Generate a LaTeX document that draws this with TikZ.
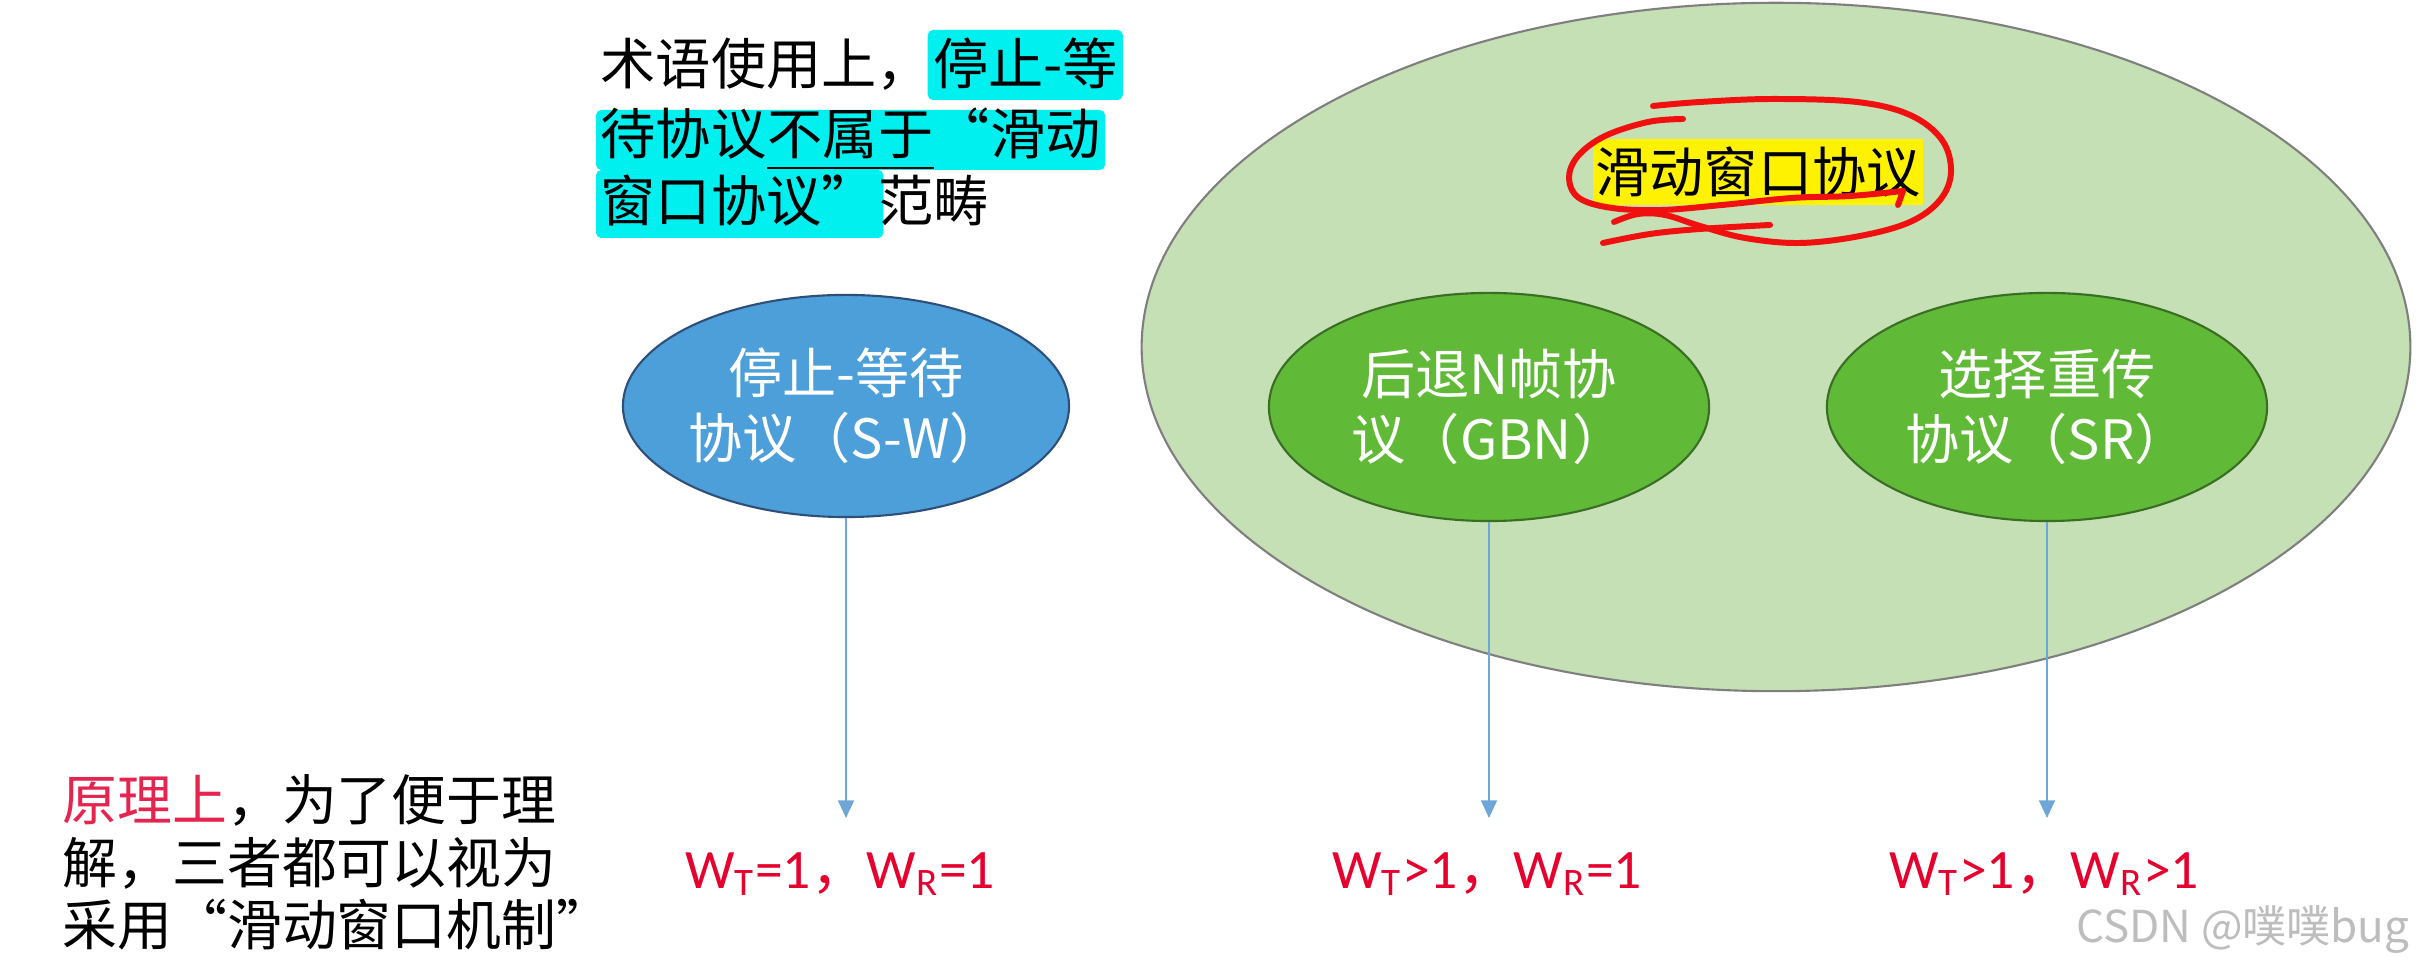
\documentclass[tikz,border=0pt]{standalone}
\usepackage{fontspec}
\setmainfont{Noto Sans CJK SC}
\newfontfamily\cjk{Noto Sans CJK SC}
\newfontfamily\lat{Carlito}
\usetikzlibrary{arrows.meta,shapes.geometric,calc,backgrounds}
\definecolor{lightgreen}{HTML}{C5E0B4}
\definecolor{ellgray}{HTML}{7F7F7F}
\definecolor{swblue}{HTML}{4C9FD9}
\definecolor{swborder}{HTML}{2E4F7A}
\definecolor{midgreen}{HTML}{60B937}
\definecolor{greenborder}{HTML}{3B6E25}
\definecolor{arrowblue}{HTML}{6FA6D8}
\definecolor{labelred}{HTML}{E6002D}
\definecolor{pinkred}{HTML}{E5254F}
\definecolor{hlcyan}{HTML}{00F0F0}
\definecolor{scribred}{HTML}{F01010}
\definecolor{wmgray}{HTML}{BDBDBD}
\begin{document}
\begin{tikzpicture}[x=0.01cm,y=-0.01cm,
  every node/.style={inner sep=0pt},
  body/.style={font=\fontsize{15.7pt}{20pt}\selectfont, text=black, anchor=base west},
  bodyb/.style={font=\fontsize{15.6pt}{20pt}\selectfont, text=black, anchor=base west},
  innertext/.style={font=\fontsize{15.4pt}{18.5pt}\selectfont, text=white, align=center},
  protoell/.style={ellipse, line width=0.6pt, minimum width=4.4cm, minimum height=2.28cm},
  wlabel/.style={font=\fontsize{15.8pt}{20pt}\selectfont, text=labelred},
  arr/.style={draw=arrowblue, line width=0.6pt, -{Triangle[length=5pt,width=4.5pt,fill=arrowblue]}},
  scrib/.style={draw=scribred, line width=1.7pt, line cap=round, line join=round}
]
\useasboundingbox (0,0) rectangle (2420,974);

% big sliding-window ellipse
\node[ellipse, draw=ellgray, fill=lightgreen, line width=0.6pt,
      minimum width=12.68cm, minimum height=6.88cm] (swp) at (1776,347) {};

% title
\node[fill=yellow, minimum width=3.3cm, minimum height=0.65cm,
      font=\fontsize{15.4pt}{18pt}\selectfont] (title) at (1758,172) {滑动窗口协议};

% scribble around the title
\draw[scrib] plot[smooth, tension=0.6] coordinates {(1683,119) (1648,122) (1605,136) (1578,156) (1569,178) (1579,198) (1612,208) (1662,210) (1722,205) (1792,198) (1850,196) (1903,191)};
\draw[scrib] (1903,191) -- (1898,205);
\draw[scrib] plot[smooth, tension=0.6] coordinates {(1653,106) (1700,102) (1773,99) (1857,102) (1910,115) (1942,140) (1951,172) (1940,200) (1910,222) (1860,236) (1800,243) (1745,238) (1700,226) (1665,215) (1638,214) (1614,222)};
\draw[scrib] plot[smooth, tension=0.6] coordinates {(1603,243) (1650,234) (1700,229) (1770,225)};

% protocol ellipses
\node[protoell, draw=swborder, fill=swblue, minimum width=4.42cm, minimum height=2.22cm, innertext] (sw) at (846,406) {停止-等待\\协议（S-W）};
\node[protoell, draw=greenborder, fill=midgreen, innertext] (gbn) at (1489,407) {后退N帧协\\议（GBN）};
\node[protoell, draw=greenborder, fill=midgreen, innertext] (sr) at (2047,407) {选择重传\\协议（SR）};

% window labels
\node[wlabel] (lsw) at (840,874) {{\lat W\textsubscript{T}=1}，{\lat W\textsubscript{R}=1}};
\node[wlabel] (lgbn) at (1487,874) {{\lat W\textsubscript{T}>1}，{\lat W\textsubscript{R}=1}};
\node[wlabel] (lsr) at (2044,874) {{\lat W\textsubscript{T}>1}，{\lat W\textsubscript{R}>1}};

\coordinate (swend) at (846,818);
\coordinate (gbnend) at (1489,818);
\coordinate (srend) at (2047,818);
\draw[arr] (sw.south) -- (swend);
\draw[arr] (gbn.south) -- (gbnend);
\draw[arr] (sr.south) -- (srend);

% top-left note
\node[body] (t1a) at (600,85) {术语使用上，};
\node[body] (t1b) at (t1a.base east) {停止-等};
\node[body] (t2a) at (600,155) {待协议};
\node[body] (t2b) at (t2a.base east) {不属于};
\node[body] (t2c) at (t2b.base east) {“滑动};
\node[body] (t3a) at (600,222) {窗口协议”};
\node[body] (t3b) at (t3a.base east) {范畴};
\draw[line width=0.7pt] ($(t2b.base west)+(0,13)$) -- ($(t2b.base east)+(0,13)$);
\begin{scope}[on background layer]
  \fill[white] (0,0) rectangle (2420,974);
  \fill[hlcyan, rounded corners=1.5pt] ($(t1b.base west)+(-5,-55)$) rectangle ($(t1b.base east)+(4,15)$);
  \fill[hlcyan, rounded corners=1.5pt] ($(t2a.base west)+(-4,-45)$) rectangle ($(t2c.base east)+(4,15)$);
  \fill[hlcyan, rounded corners=1.5pt] ($(t3a.base west)+(-4,-52)$) rectangle ($(t3a.base east)+(6,16)$);
\end{scope}

% bottom-left note
\node[bodyb] (b1) at (62,821) {{\color{pinkred}原理上}，为了便于理};
\node[bodyb] (b2) at (62,884) {解，三者都可以视为};
\node[bodyb] (b3) at (62,946) {采用“滑动窗口机制”};

% watermark
\node[anchor=east, text=wmgray, font=\fontsize{12.5pt}{15pt}\selectfont] (wm) at (2410,930) {CSDN @噗噗bug};
\end{tikzpicture}
\end{document}
